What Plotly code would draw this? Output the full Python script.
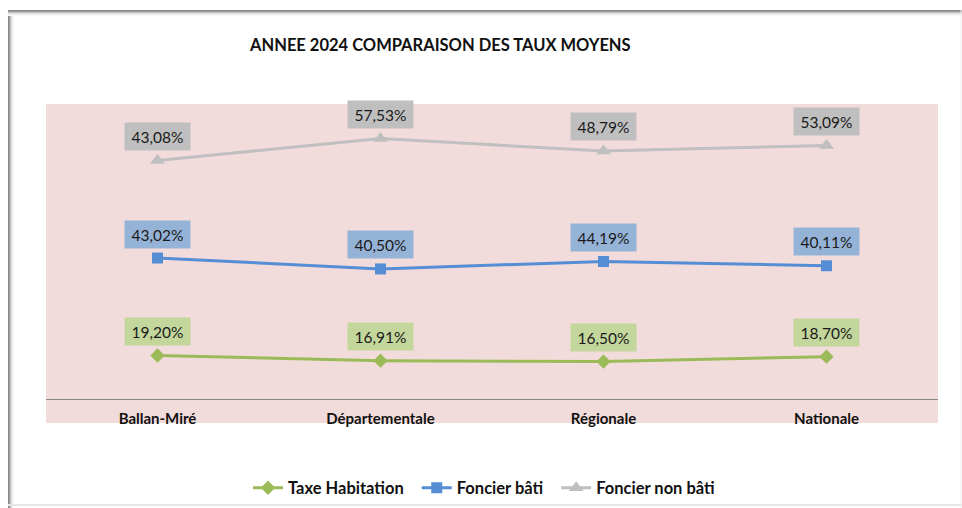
import numpy as np
import plotly.graph_objects as go

# Data
categories = ["Ballan-Miré", "Départementale", "Régionale", "Nationale"]
taxe_habitation = [19.20, 16.91, 16.50, 18.70]
foncier_bati = [43.02, 40.50, 44.19, 40.11]
foncier_non_bati = [43.08, 57.53, 48.79, 53.09]

series_names = ["Taxe Habitation", "Foncier bâti", "Foncier non bâti"]
series_values = [taxe_habitation, foncier_bati, foncier_non_bati]
line_colors = ["#9BBB59", "#558ED5", "#BFBFBF"]
label_colors = ["#C3D69B", "#95B3D7", "#BFBFBF"]
symbols = ["diamond", "square", "triangle-up"]
symbol_sizes = [11, 11, 13]

W, H = 962, 508
FONT = "Lato"
PAD = "\u00a0\u00a0"  # extra room between legend entries


def px_x(x):
    return x / W


def px_y(y):
    return 1 - y / H


fig = go.Figure()

for k, (name, vals, col, sym, sz) in enumerate(zip(series_names, series_values, line_colors, symbols, symbol_sizes)):
    fig.add_trace(go.Scatter(
        x=categories, y=vals,
        name=name + (PAD if k < len(series_names) - 1 else ""),
        stackgroup="taux", fill="none",
        mode="lines+markers",
        line=dict(color=col, width=3),
        marker=dict(symbol=sym, size=sz, color=col),
    ))

# Data labels above each stacked point
cum = np.cumsum(np.array(series_values), axis=0)
annotations = []
for i, vals in enumerate(series_values):
    for j, v in enumerate(vals):
        annotations.append(dict(
            x=categories[j], y=cum[i][j], xref="x", yref="y",
            text=f"{v:.2f}".replace(".", ",") + "%",
            showarrow=False, yshift=24,
            bgcolor=label_colors[i], width=63, height=25,
            font=dict(family=FONT, size=15.5, color="#1a1a1a"),
        ))

# Title
annotations.append(dict(
    x=px_x(440), y=px_y(33), xref="paper", yref="paper",
    text="ANNEE 2024 COMPARAISON DES TAUX MOYENS",
    showarrow=False, font=dict(family=FONT, size=16.5, color="#111111", weight="bold"),
))

shapes = []
# Plot-area background (extends below the category axis)
shapes.append(dict(type="rect", xref="paper", yref="paper",
                   x0=px_x(46), x1=px_x(938), y0=px_y(423), y1=px_y(104),
                   fillcolor="#F2DCDB", line=dict(width=0), layer="below"))
# Chart frame with soft shadow
for k, c in enumerate(["#8a8a8a", "#9a9a9a", "#c4c4c4", "#dedede", "#eeeeee", "#f7f7f7"]):
    shapes.append(dict(type="line", xref="paper", yref="paper",
                       x0=px_x(8), x1=1, y0=px_y(10.5 + k), y1=px_y(10.5 + k),
                       line=dict(color=c, width=1), layer="below"))
    shapes.append(dict(type="line", xref="paper", yref="paper",
                       x0=px_x(8.5 + k), x1=px_x(8.5 + k), y0=px_y(10 + k), y1=0,
                       line=dict(color=c, width=1), layer="below"))
shapes.append(dict(type="line", xref="paper", yref="paper",
                   x0=px_x(8), x1=1, y0=px_y(505), y1=px_y(505),
                   line=dict(color="#e6e6e6", width=2), layer="below"))
shapes.append(dict(type="line", xref="paper", yref="paper",
                   x0=px_x(961), x1=px_x(961), y0=0, y1=px_y(10),
                   line=dict(color="#eeeeee", width=1), layer="below"))

fig.update_layout(
    width=W, height=H,
    margin=dict(l=0, r=0, t=0, b=0),
    paper_bgcolor="white",
    plot_bgcolor="rgba(0,0,0,0)",
    showlegend=True,
    legend=dict(
        orientation="h", x=px_x(484), y=px_y(488), xanchor="center", yanchor="middle",
        font=dict(family=FONT, size=16.5, color="#111111", weight="bold"),
        itemwidth=30, tracegroupgap=0, traceorder="normal",
        bgcolor="rgba(0,0,0,0)",
    ),
    xaxis=dict(
        domain=[px_x(46), px_x(938)],
        range=[-0.5, 3.5],
        showline=True, linecolor="#888888", linewidth=1,
        showgrid=False, zeroline=False, ticks="",
        tickfont=dict(family=FONT, size=15, color="#111111", weight="bold"),
        ticklabelstandoff=6,
    ),
    yaxis=dict(
        domain=[px_y(399), px_y(104)],
        range=[0, 130.2],
        showticklabels=False, showgrid=False, zeroline=False, showline=False,
    ),
    annotations=annotations,
    shapes=shapes,
    hovermode=False,
)

fig.write_html("out.html")
